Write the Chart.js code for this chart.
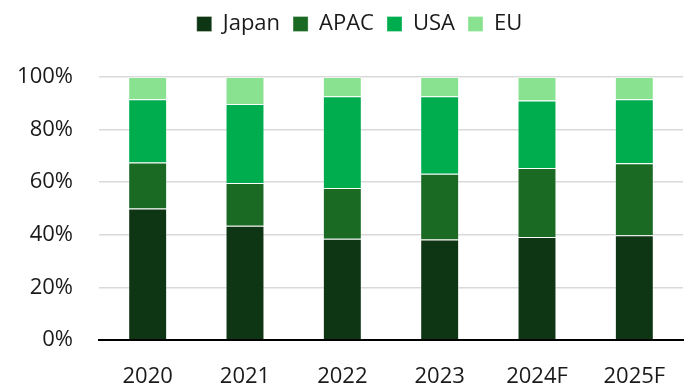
<!DOCTYPE html>
<html>
<head>
<meta charset="utf-8">
<script src="https://cdn.jsdelivr.net/npm/chart.js@4/dist/chart.umd.min.js"></script>
<style>
  html, body { margin: 0; padding: 0; background: #ffffff; }
  #wrap { width: 689px; height: 385px; }
</style>
</head>
<body>
<div id="wrap"><canvas id="shareChart"></canvas></div>
<script>
var years = ["2020", "2021", "2022", "2023", "2024F", "2025F"];
var japan = [50.0, 43.4, 38.5, 38.2, 39.2, 39.8];
var apac  = [17.5, 16.3, 19.3, 25.0, 26.2, 27.4];
var usa   = [24.0, 30.0, 34.9, 29.5, 25.7, 24.3];
var eu    = [8.5, 10.3, 7.3, 7.3, 8.9, 8.5];
var yTicks = [0, 20, 40, 60, 80, 100];

var textColor = "#1a1a1a";
Chart.defaults.font.family = "'Open Sans', Lato, sans-serif";
Chart.defaults.font.size = 22;
Chart.defaults.color = textColor;

function series(label, data, colour) {
  return {
    label: label,
    data: data,
    backgroundColor: colour,
    borderColor: "rgba(255,255,255,0.3)",
    borderWidth: 1,
    categoryPercentage: 1,
    barPercentage: 0.4
  };
}

// fixed legend band so the plot starts lower down, legend nudged right
var legendBand = {
  id: "legendBand",
  beforeInit: function (chart) {
    var legend = chart.legend;
    var fit = legend.fit;
    var draw = legend.draw;
    legend.fit = function () {
      fit.call(this);
      this.height = 77;
    };
    legend.draw = function () {
      this.ctx.save();
      this.ctx.translate(18, 0);
      draw.call(this);
      this.ctx.restore();
    };
  }
};

var ctx = document.getElementById("shareChart").getContext("2d");

var shareChart = new Chart(ctx, {
  type: "bar",
  data: {
    labels: years,
    datasets: [
      series("Japan", japan, "#0e3514"),
      series("APAC", apac, "#1a6a23"),
      series("USA", usa, "#00ad4e"),
      series("EU", eu, "#89e28f")
    ]
  },
  plugins: [legendBand],
  options: {
    responsive: true,
    maintainAspectRatio: false,
    animation: false,
    layout: { padding: { left: 0, right: 6, top: 0, bottom: 0 } },
    plugins: {
      legend: {
        position: "top",
        labels: {
          boxWidth: 15,
          boxHeight: 15,
          padding: 13,
          color: textColor,
          font: { size: 22 }
        }
      },
      tooltip: { enabled: false }
    },
    scales: {
      x: {
        stacked: true,
        grid: { display: false },
        border: { display: true, color: "#000000", width: 2 },
        ticks: { padding: 16, color: textColor, maxRotation: 0 },
        afterFit: function (axis) { axis.height = 45; }
      },
      y: {
        stacked: true,
        min: 0,
        max: 100,
        afterBuildTicks: function (axis) {
          axis.ticks = yTicks.map(function (v) { return { value: v }; });
        },
        grid: { color: "#d9d9d9", lineWidth: 1.5, drawTicks: false },
        border: { display: false },
        ticks: {
          padding: 26,
          color: textColor,
          callback: function (v) { return v + "%"; }
        },
        afterFit: function (axis) { axis.width = 99; }
      }
    }
  }
});
</script>
</body>
</html>
